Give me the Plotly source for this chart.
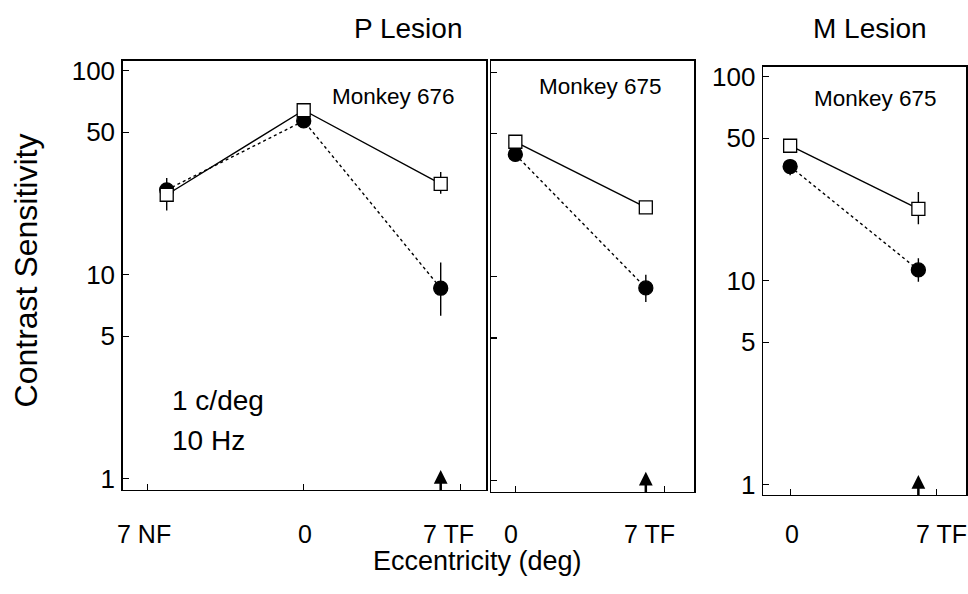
import plotly.graph_objects as go

# ---------------- data ----------------
# Panel 1: P Lesion, Monkey 676 (eccentricity in deg: -7 = 7 NF, 0, 7 = 7 TF)
p1_ecc = [-7, 0, 7]
p1_ctrl = [24.7, 64.1, 27.9]          # open squares (solid line)
p1_ctrl_hi = [24.7, 64.1, 31.9]
p1_ctrl_lo = [24.7, 64.1, 25.0]
p1_les = [26.1, 56.8, 8.6]            # filled circles (dotted line)
p1_les_hi = [29.8, 56.8, 11.5]
p1_les_lo = [20.7, 56.8, 6.3]

# Panel 2: P Lesion, Monkey 675
p2_ecc = [0, 7]
p2_ctrl = [45.7, 21.8]
p2_ctrl_hi = [45.7, 22.6]
p2_ctrl_lo = [45.7, 21.0]
p2_les = [39.6, 8.8]
p2_les_hi = [43.8, 10.2]
p2_les_lo = [37.0, 7.5]

# Panel 3: M Lesion, Monkey 675
p3_ecc = [0, 7]
p3_ctrl = [45.9, 22.5]
p3_ctrl_hi = [45.9, 27.2]
p3_ctrl_lo = [45.9, 18.9]
p3_les = [36.3, 11.3]
p3_les_hi = [39.3, 12.9]
p3_les_lo = [32.9, 9.9]

y_tickvals = [1, 5, 10, 50, 100]
y_ticktext = ["1", "5", "10", "50", "100"]
p1_xlabels = ["7 NF", "0", "7 TF"]
p2_xlabels = ["0", "7 TF"]
p3_xlabels = ["0", "7 TF"]
monkeys = ["Monkey 676", "Monkey 675", "Monkey 675"]
titles = ["P Lesion", "M Lesion"]

FONT = "Liberation Sans, Arial, Helvetica, sans-serif"
W, H = 968, 594

fig = go.Figure()


def add_series(xa, ya, x, y, hi, lo, symbol, filled, dash):
    plus = [h - v for h, v in zip(hi, y)]
    minus = [v - l for v, l in zip(y, lo)]
    fig.add_trace(go.Scatter(
        x=x, y=y, xaxis=xa, yaxis=ya, mode="lines+markers",
        line=dict(color="black", width=1.4, dash=dash),
        marker=dict(symbol=symbol, size=14 if filled else 13,
                    color="black" if filled else "white",
                    line=dict(color="black", width=1.3)),
        error_y=dict(type="data", symmetric=False, array=plus, arrayminus=minus,
                     color="black", thickness=1.4, width=0),
        showlegend=False, cliponaxis=False, hoverinfo="skip",
    ))


panels = [
    ("x", "y", p1_ecc, p1_ctrl, p1_ctrl_hi, p1_ctrl_lo, p1_les, p1_les_hi, p1_les_lo),
    ("x2", "y2", p2_ecc, p2_ctrl, p2_ctrl_hi, p2_ctrl_lo, p2_les, p2_les_hi, p2_les_lo),
    ("x3", "y3", p3_ecc, p3_ctrl, p3_ctrl_hi, p3_ctrl_lo, p3_les, p3_les_hi, p3_les_lo),
]
for xa, ya, ex, c, ch, cl, l, lh, ll in panels:
    add_series(xa, ya, ex, l, lh, ll, "circle", True, "dot")
    add_series(xa, ya, ex, c, ch, cl, "square", False, "solid")

# pixel geometry of the three frames
frames = [
    dict(x0=123, x1=487, y0=57, y1=493, xr=[-9.24, 9.34], yr=[-0.053, 2.048], xt=[-8, 0, 8], labels=True),
    dict(x0=492, x1=695, y0=57, y1=495, xr=[-1.28, 9.6], yr=[-0.053, 2.055], xt=[0, 8], labels=False),
    dict(x0=764, x1=967, y0=63, y1=498, xr=[-1.47, 9.6], yr=[-0.048, 2.048], xt=[0, 8], labels=True),
]

layout = dict(
    width=W, height=H, margin=dict(l=0, r=0, t=0, b=0),
    plot_bgcolor="white", paper_bgcolor="white",
    font=dict(family=FONT, color="black"), hovermode=False,
)
for i, f in enumerate(frames):
    sfx = "" if i == 0 else str(i + 1)
    layout["xaxis" + sfx] = dict(
        domain=[f["x0"] / W, f["x1"] / W], range=f["xr"], anchor="y" + sfx,
        showgrid=False, zeroline=False, showline=True, linecolor="black", linewidth=1.6,
        mirror=True, ticks="inside", ticklen=6, tickwidth=1.2, tickcolor="black",
        tickvals=f["xt"], showticklabels=False,
    )
    layout["yaxis" + sfx] = dict(
        domain=[1 - f["y1"] / H, 1 - f["y0"] / H], range=f["yr"], type="log",
        anchor="x" + sfx, showgrid=False, zeroline=False, showline=True,
        linecolor="black", linewidth=1.6, mirror=True, ticks="inside", ticklen=6,
        tickwidth=1.2, tickcolor="black", tickvals=y_tickvals, ticktext=y_ticktext,
        showticklabels=f["labels"], tickfont=dict(size=26, family=FONT),
        ticklabelstandoff=1,
    )
fig.update_layout(**layout)

ann = []
# x tick labels (annotations under each frame, pixel centres)
xlab_pos = [
    (p1_xlabels, [144, 305, 449]),
    (p2_xlabels, [512, 650]),
    (p3_xlabels, [793, 942]),
]
for labs, pos in xlab_pos:
    for lab, px in zip(labs, pos):
        ann.append(dict(x=px / W, y=1 - 538 / H, xref="paper", yref="paper", text=lab,
                        showarrow=False, font=dict(size=25, family=FONT),
                        xanchor="center", yanchor="middle"))

# arrows at 7 TF
for xref, yref in [("x", "y domain"), ("x2", "y2 domain"), ("x3", "y3 domain")]:
    ann.append(dict(x=7, y=0.046, xref=xref, yref=yref, text="", showarrow=True,
                    ax=0, ay=22, arrowhead=2, arrowsize=1.1, arrowwidth=2.5,
                    arrowcolor="black"))

# monkey labels
for px, py, txt in [(394, 93, monkeys[0]), (601, 83, monkeys[1]), (876, 95, monkeys[2])]:
    ann.append(dict(x=px / W, y=1 - py / H, xref="paper", yref="paper", text=txt,
                    showarrow=False, font=dict(size=22.5, family=FONT),
                    xanchor="center", yanchor="middle"))

# stimulus labels
ann.append(dict(x=170 / W, y=1 - 402 / H, xref="paper", yref="paper", text="1 c/deg",
                showarrow=False, font=dict(size=28, family=FONT), xanchor="left", yanchor="middle"))
ann.append(dict(x=170 / W, y=1 - 443 / H, xref="paper", yref="paper", text="10 Hz",
                showarrow=False, font=dict(size=28, family=FONT), xanchor="left", yanchor="middle"))

# titles
ann.append(dict(x=408 / W, y=1 - 24 / H, xref="paper", yref="paper", text=titles[0],
                showarrow=False, font=dict(size=28, family=FONT), xanchor="center", yanchor="middle"))
ann.append(dict(x=871 / W, y=1 - 24 / H, xref="paper", yref="paper", text=titles[1],
                showarrow=False, font=dict(size=28, family=FONT), xanchor="center", yanchor="middle"))

# axis titles
ann.append(dict(x=478 / W, y=1 - 566 / H, xref="paper", yref="paper", text="Eccentricity (deg)",
                showarrow=False, font=dict(size=27, family=FONT), xanchor="center", yanchor="middle"))
ann.append(dict(x=26 / W, y=1 - 270 / H, xref="paper", yref="paper", text="Contrast Sensitivity",
                showarrow=False, font=dict(size=32, family=FONT), textangle=-90,
                xanchor="center", yanchor="middle"))

fig.update_layout(annotations=ann)
fig.write_html("out.html", config={"displayModeBar": False, "staticPlot": True},
               post_script="document.body.style.margin='0';document.body.style.overflow='hidden';")
